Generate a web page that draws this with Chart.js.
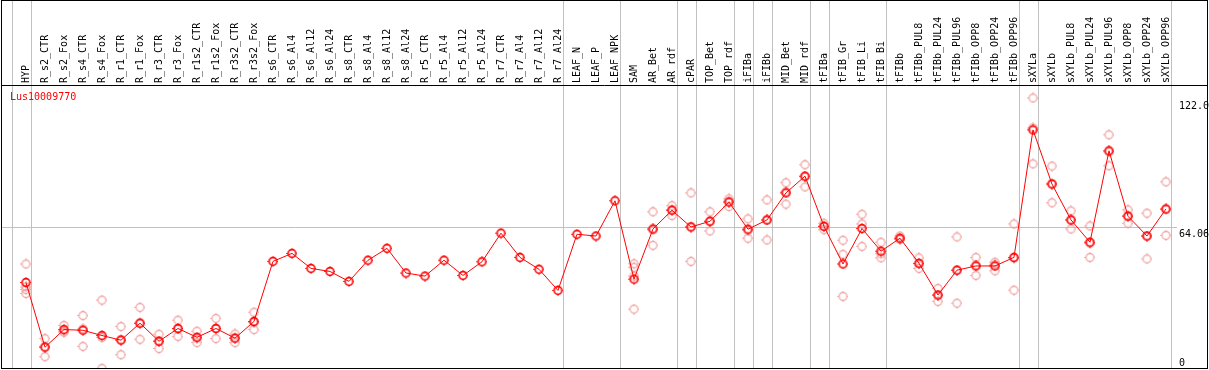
<!DOCTYPE html>
<html>
<head>
<meta charset="utf-8">
<script src="https://cdn.jsdelivr.net/npm/chart.js@4.4.0/dist/chart.umd.min.js"></script>
<style>
  body { margin: 0; background: #fff; }
  #wrap { width: 1209px; height: 370px; }
</style>
</head>
<body>
<div id="wrap"><canvas id="chart" width="1209" height="370"></canvas></div>
<script>
// categories (samples) along the top
const categories = [
	"HYP", "R_s2_CTR", "R_s2_Fox", "R_s4_CTR", "R_s4_Fox", "R_r1_CTR", "R_r1_Fox", "R_r3_CTR", "R_r3_Fox",
	"R_r1s2_CTR", "R_r1s2_Fox", "R_r3s2_CTR", "R_r3s2_Fox", "R_s6_CTR", "R_s6_Al4", "R_s6_Al12", "R_s6_Al24",
	"R_s8_CTR", "R_s8_Al4", "R_s8_Al12", "R_s8_Al24", "R_r5_CTR", "R_r5_Al4", "R_r5_Al12", "R_r5_Al24",
	"R_r7_CTR", "R_r7_Al4", "R_r7_Al12", "R_r7_Al24", "LEAF_N", "LEAF_P", "LEAF_NPK", "SAM", "AR_Bet", "AR_rdf",
	"cPAR", "TOP_Bet", "TOP_rdf", "iFIBa", "iFIBb", "MID_Bet", "MID_rdf", "tFIBa", "tFIB_Gr", "tFIB_Li", "tFIB_Bi",
	"tFIBb", "tFIBb_PUL8", "tFIBb_PUL24", "tFIBb_PUL96", "tFIBb_OPP8", "tFIBb_OPP24", "tFIBb_OPP96",
	"sXYLa", "sXYLb", "sXYLb_PUL8", "sXYLb_PUL24", "sXYLb_PUL96", "sXYLb_OPP8", "sXYLb_OPP24", "sXYLb_OPP96"
];

const geneName = "Lus10009770";

// mean expression per sample
const means = [
	39.3, 9.9, 17.9, 17.6, 15.2, 13.1, 20.8, 12.6, 18.4, 14.4, 18.4, 14.0, 21.6,
	48.9, 52.5, 45.7, 44.3, 39.8, 49.4, 54.8, 43.6, 42.2, 49.4, 42.5, 48.7, 61.7, 50.7, 45.3, 35.7,
	61.2, 60.4, 76.4, 40.8, 63.6, 72.1, 64.5, 67.1, 75.8, 63.5, 67.7, 80.0, 87.6, 64.8, 47.7, 63.8, 53.5,
	59.4, 48.0, 33.6, 44.9, 46.8, 46.8, 50.7, 108.6, 84.0, 67.7, 57.6, 99.1, 69.4, 60.4, 72.7
];

// replicates
const rep1 = [
	47.7, 13.8, 19.8, 24.3, 31.3, 19.3, 28.0, 15.8, 22.2, 17.2, 23.0, 15.9, 25.8,
	null, null, null, null, null, null, null, null, null, null, null, null, null, null, null, null,
	null, null, null, 47.8, 71.4, 74.2, 80.0, 71.4, 77.3, 68.2, 76.8, 84.6, 92.8, 66.2, 58.5, 70.3, 57.6,
	60.4, 50.5, 36.6, 60.0, 50.7, 48.5, 65.9, 123.1, 92.2, 71.8, 65.0, 106.4, 72.3, 70.8, 85.0
];
const rep2 = [
	34.3, 5.6, 16.7, 10.3, 0.3, 6.5, 13.5, 9.3, 14.8, 12.0, 13.8, 12.0, 17.9,
	null, null, null, null, null, null, null, null, null, null, null, null, null, null, null, null,
	null, null, null, 27.2, 56.2, 69.7, 48.9, 62.7, 73.8, 59.4, 58.6, 74.9, 82.7, 63.3, 33.0, 55.7, 50.5,
	58.9, 45.7, 30.7, 29.9, 42.5, 44.6, 35.8, 93.2, 75.5, 63.6, 50.7, 92.3, 66.2, 50.0, 60.7
];
const rep3 = [
	36.1, 10.3, 17.2, 18.2, 14.3, 13.4, 20.9, 12.7, 18.2, 14.0, 18.4, 14.1, 21.1,
	null, null, null, null, null, null, null, null, null, null, null, null, null, null, null, null,
	null, null, null, 46.2, 63.2, 72.4, 64.6, 67.2, 76.3, 62.9, 67.7, 80.5, 87.3, 64.9, 52.1, 65.9, 52.4,
	59.0, 47.8, 33.5, 44.8, 47.2, 47.3, 50.4, 109.5, 84.3, 67.7, 57.1, 98.6, 69.7, 60.4, 72.4
];
const rep4 = [
	37.3, null, null, null, null, null, null, null, null, null, null, null, null,
	null, null, null, null, null, null, null, null, null, null, null, null, null, null, null, null,
	null, null, null, 42.2, null, null, null, null, null, null, null, null, null, null, null, null, null,
	null, null, null, null, null, null, null, null, null, null, null, null, null, null, null
];

// right axis
const yTicks = [0, 64.06, 122.0];
const yLabels = ["0", "64.06", "122.0"];

// index of last sample in each group (separator drawn after it)
const groupEnds = [-1, 0, 28, 31, 34, 35, 37, 38, 39, 41, 42, 45, 52, 53, 60];

const red = "#ff0000";
const pink = "#f09a9a";
const monoFont = "DejaVu Sans Mono";

// small circle marker with four little ticks
function makeMarker(color, lw) {
	const c = document.createElement("canvas");
	c.width = 11;
	c.height = 11;
	const g = c.getContext("2d");
	g.strokeStyle = color;
	g.fillStyle = color;
	g.lineWidth = lw;
	g.beginPath();
	g.arc(5.5, 5.5, 3.9, 0, Math.PI * 2);
	g.stroke();
	g.globalAlpha = 0.8;
	g.fillRect(5, 0, 1, 1);
	g.fillRect(5, 10, 1, 1);
	g.fillRect(0, 5, 1, 1);
	g.fillRect(10, 5, 1, 1);
	return c;
}
const meanMarker = makeMarker(red, 1.6);
const repMarker = makeMarker(pink, 1.1);

function toPoints(arr) {
	return arr.map((v, i) => ({ x: i, y: v }));
}

function repSet(arr) {
	return {
		data: toPoints(arr),
		showLine: false,
		pointStyle: repMarker,
		pointRadius: 5,
		order: 2
	};
}

// frame, header line, separators and gene name
const framePlugin = {
	id: "frame",
	beforeDatasetsDraw(chart) {
		const ctx = chart.ctx;
		const xs = chart.scales.x;
		ctx.save();
		ctx.strokeStyle = "#c0c0c0";
		ctx.lineWidth = 1;
		for (let g of groupEnds) {
			const px = Math.round(xs.getPixelForValue(g + 0.24)) + 0.5;
			ctx.beginPath();
			ctx.moveTo(px, 1);
			ctx.lineTo(px, chart.chartArea.bottom);
			ctx.stroke();
		}
		ctx.restore();
	},
	afterDraw(chart) {
		const ctx = chart.ctx;
		const area = chart.chartArea;
		ctx.save();
		ctx.strokeStyle = "#000";
		ctx.lineWidth = 1;
		ctx.strokeRect(1.5, 0.5, 1206, 368);
		ctx.beginPath();
		ctx.moveTo(1, area.top + 0.5);
		ctx.lineTo(1208, area.top + 0.5);
		ctx.stroke();
		ctx.fillStyle = red;
		ctx.font = "10px " + monoFont;
		ctx.textBaseline = "middle";
		ctx.fillText(geneName, 10, 97);
		ctx.restore();
	}
};

new Chart(document.getElementById("chart"), {
	type: "scatter",
	data: {
		datasets: [
			{
				data: toPoints(means),
				showLine: true,
				borderColor: red,
				borderWidth: 1,
				pointStyle: meanMarker,
				pointRadius: 5,
				order: 1
			},
			repSet(rep1),
			repSet(rep2),
			repSet(rep3),
			repSet(rep4)
		]
	},
	options: {
		responsive: false,
		animation: false,
		devicePixelRatio: 1,
		layout: { autoPadding: false, padding: { left: 2, right: 0, top: 0, bottom: 1 } },
		plugins: {
			legend: { display: false },
			tooltip: { enabled: false }
		},
		scales: {
			x: {
				type: "linear",
				position: "top",
				min: -1.263,
				max: 60.579,
				afterBuildTicks: s => { s.ticks = categories.map((c, i) => ({ value: i })); },
				afterFit: s => {
					s.height = 85;
					s.paddingLeft = 0;
					s.paddingRight = 0;
				},
				grid: { display: false, drawTicks: false },
				border: { display: false },
				ticks: {
					autoSkip: false,
					minRotation: 90,
					maxRotation: 90,
					padding: 2,
					labelOffset: 12,
					color: "#000",
					font: { family: monoFont, size: 10 },
					callback: (v, i) => categories[i]
				}
			},
			y: {
				position: "right",
				min: 0,
				max: 129,
				afterBuildTicks: s => { s.ticks = yTicks.map(v => ({ value: v })); },
				afterFit: s => {
					s.width = 32;
					s.paddingTop = 0;
					s.paddingBottom = 0;
				},
				grid: {
					drawTicks: false,
					color: c => (c.tick && c.tick.value === 64.06) ? "#c0c0c0" : "rgba(0,0,0,0)"
				},
				border: { display: false },
				ticks: {
					padding: 2,
					color: "#000",
					font: { family: monoFont, size: 10 },
					callback: (v, i) => i === 0 ? [yLabels[i], ""] : ["", yLabels[i]]
				}
			}
		}
	},
	plugins: [framePlugin]
});
</script>
</body>
</html>
